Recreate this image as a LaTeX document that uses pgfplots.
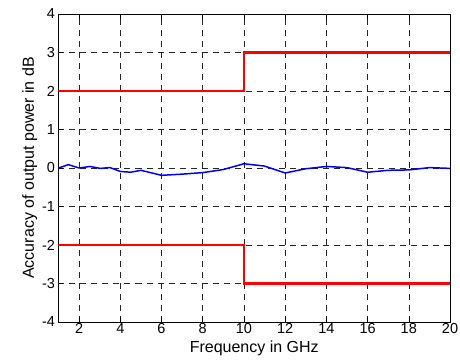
\documentclass[border=0pt]{standalone}
\usepackage{fontspec}
\setmainfont{Liberation Sans}
\usepackage{pgfplots}
\pgfplotsset{compat=1.18}
\begin{document}
\begin{tikzpicture}
\begin{axis}[
  scale only axis,
  width=391.5pt, height=308pt,
  xmin=1, xmax=20, ymin=-4, ymax=4,
  xtick={2,4,...,20}, ytick={-4,-3,...,4},
  /pgf/number format/assume math mode=true,
  tick label style={font=\fontsize{14.5}{16}\selectfont},
  label style={font=\fontsize{16}{18}\selectfont},
  xlabel={Frequency in GHz},
  ylabel={Accuracy of output power in dB},
  xlabel style={yshift=0pt},
  ylabel style={yshift=-2pt},
  xticklabel style={yshift=2pt},
  grid=major,
  major grid style={black!85, line width=0.5pt, dash pattern=on 6pt off 5pt},
  tick align=inside, tick pos=both,
  major tick length=5pt,
  axis line style={black, line width=0.8pt},
  every tick/.style={black, line width=0.5pt},
]
\coordinate (sw) at (rel axis cs:0,0);
\coordinate (ne) at (rel axis cs:1,1);
\addplot[red, line width=2.8pt] coordinates {(1,2) (10,2) (10,3) (20,3)};
\addplot[red, line width=2.8pt] coordinates {(1,-2) (10,-2) (10,-3) (20,-3)};
\addplot[blue, line width=1.5pt] coordinates {
(1,0) (1.48,0.087) (2,0) (2.53,0.04) (3.02,-0.01) (3.5,0.01) (4,-0.09) (4.5,-0.11) (5,-0.06)
(6,-0.19) (7,-0.16) (8,-0.12) (9,-0.04) (10,0.11) (11,0.05) (12,-0.13) (13,-0.02) (14,0.04)
(15,0.01) (16,-0.11) (17,-0.06) (18,-0.05) (19,0.01) (20,-0.01)};
\end{axis}
\pgfresetboundingbox
\path (sw) ++(-58.5pt,-40pt) coordinate (a);
\path (ne) ++(10pt,14pt) coordinate (b);
\path (a) rectangle (b);
\end{tikzpicture}
\end{document}
